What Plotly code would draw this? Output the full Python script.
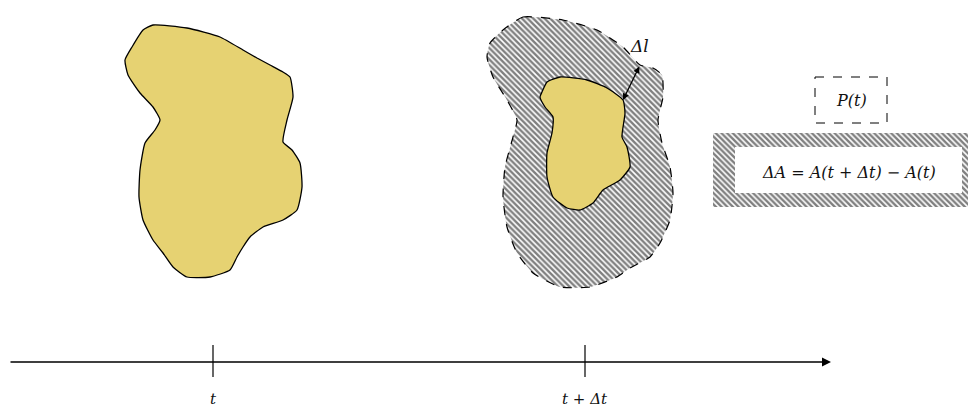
import plotly.graph_objects as go

# Region at time t (pixel-space outline)
region_t_x = [143,153,187,220,243,257,270,283,290,293,287,283,292,300,302,297,283,263,250,243,237,230,210,187,173,163,153,143,139,140,145,155,160,153,140,128,125,132,143]
region_t_y = [30,25,28,37,50,58,65,72,77,97,120,142,150,163,187,210,220,227,237,247,257,270,277,277,267,253,240,220,197,170,143,130,120,107,93,75,60,47,30]

# Region at time t+dt (outer, dashed hatched)
outer_x = [503,523,563,597,623,640,653,662,663,658,662,670,673,670,660,650,630,617,590,560,533,517,507,503,505,513,517,507,493,487,490,503]
outer_y = [30,17,20,30,47,65,68,75,97,120,143,167,193,220,243,257,268,277,287,287,273,253,227,197,167,137,120,100,77,57,43,30]

# Inner region P(t)
inner_x = [542,547,560,587,607,623,625,622,627,630,620,603,593,580,567,553,547,547,552,553,545,540,542]
inner_y = [92,82,77,80,88,100,113,137,147,167,180,190,203,210,208,197,177,153,133,117,107,97,92]

# Δl arrow endpoints
dl_x = [640, 623]
dl_y = [65, 100]

# time axis
axis_x = [9, 831]
axis_y = 362
tick_x = [213, 585]
tick_labels = ["t", "t + Δt"]

YELLOW = "#E6D272"
OFF = 8  # compensate the page body margin

fig = go.Figure()

pattern = dict(shape="\\", size=4, solidity=0.6, fgcolor="black", bgcolor="white")

fig.add_trace(go.Scatter(
    x=outer_x, y=outer_y, mode="lines", fill="toself",
    fillcolor="white", fillpattern=pattern,
    line=dict(color="black", width=1.2, dash="dash", shape="spline", smoothing=0.5),
    hoverinfo="skip", showlegend=False))

fig.add_trace(go.Scatter(
    x=inner_x, y=inner_y, mode="lines", fill="toself", fillcolor=YELLOW,
    line=dict(color="black", width=1.3, shape="spline", smoothing=0.5),
    hoverinfo="skip", showlegend=False))

fig.add_trace(go.Scatter(
    x=region_t_x, y=region_t_y, mode="lines", fill="toself", fillcolor=YELLOW,
    line=dict(color="black", width=1.3, shape="spline", smoothing=0.5),
    hoverinfo="skip", showlegend=False))

hx = [713, 990, 990, 713, 713]
hy = [133, 133, 207, 207, 133]
fig.add_trace(go.Scatter(
    x=hx, y=hy, mode="lines", fill="toself", fillcolor="white",
    fillpattern=pattern,
    line=dict(width=0), hoverinfo="skip", showlegend=False))
wx = [735, 962, 962, 735, 735]
wy = [147, 147, 193, 193, 147]
fig.add_trace(go.Scatter(
    x=wx, y=wy, mode="lines", fill="toself", fillcolor="white",
    line=dict(width=0), hoverinfo="skip", showlegend=False))

shapes = []
shapes.append(dict(type="rect", x0=815, x1=887, y0=77, y1=123,
                   line=dict(color="black", width=1, dash="dash"), fillcolor="white"))
for tx in tick_x:
    shapes.append(dict(type="line", x0=tx, x1=tx, y0=345, y1=377,
                       line=dict(color="black", width=1.2)))

SERIF = "DejaVu Serif"
def tfont(size):
    return dict(family=SERIF, size=size, color="#111111")

annotations = []
annotations.append(dict(x=axis_x[1], y=axis_y, ax=axis_x[0], ay=axis_y,
                        xref="x", yref="y", axref="x", ayref="y",
                        text="", showarrow=True, arrowhead=2, arrowsize=1.2,
                        arrowwidth=1.5, arrowcolor="black"))
annotations.append(dict(x=dl_x[1], y=dl_y[1], ax=dl_x[0], ay=dl_y[0],
                        xref="x", yref="y", axref="x", ayref="y",
                        text="", showarrow=True, arrowhead=2, startarrowhead=2,
                        arrowside="end+start", arrowsize=1, startarrowsize=1,
                        arrowwidth=1.3, arrowcolor="black"))
annotations.append(dict(x=639, y=46, xref="x", yref="y", text="<i>Δl</i>",
                        showarrow=False, font=tfont(17)))
annotations.append(dict(x=851, y=100, xref="x", yref="y", text="<i>P(t)</i>",
                        showarrow=False, font=tfont(16)))
annotations.append(dict(x=849, y=172, xref="x", yref="y",
                        text="<i>ΔA = A(t + Δt) − A(t)</i>",
                        showarrow=False, font=tfont(16)))
for tx, tl in zip(tick_x, tick_labels):
    annotations.append(dict(x=tx, y=399, xref="x", yref="y", text="<i>%s</i>" % tl,
                            showarrow=False, font=tfont(15)))

fig.update_layout(
    width=976, height=408, margin=dict(l=0, r=0, t=0, b=0),
    paper_bgcolor="white", plot_bgcolor="white",
    xaxis=dict(range=[OFF, 976 + OFF], visible=False, fixedrange=True),
    yaxis=dict(range=[408 + OFF, OFF], visible=False, fixedrange=True),
    shapes=shapes, annotations=annotations, showlegend=False)

fig.write_html("out.html")
